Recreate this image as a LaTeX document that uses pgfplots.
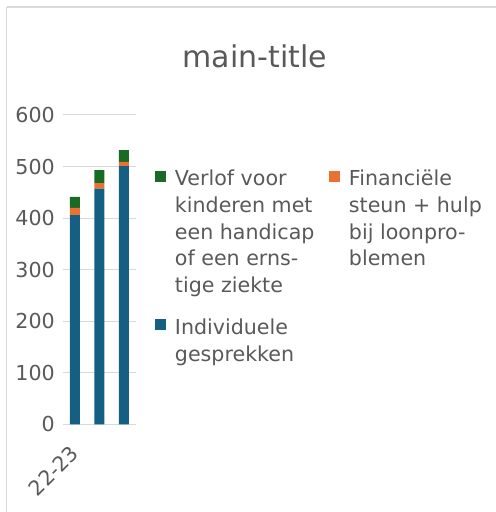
\documentclass[border=0pt]{standalone}
\usepackage{fontspec}
\setmainfont{DejaVu Sans}
\usepackage{pgfplots}
\pgfplotsset{compat=1.18}
\definecolor{cblue}{HTML}{156082}
\definecolor{corange}{HTML}{E97132}
\definecolor{cgreen}{HTML}{196B24}
\definecolor{txtgray}{HTML}{595959}
\definecolor{gridgray}{HTML}{D9D9D9}
\begin{document}
\begin{tikzpicture}
\useasboundingbox (0,0) rectangle (496bp,512bp);
\draw[gridgray, line width=1.3bp] (6.7bp,505bp) -- (496bp,505bp);
\draw[gridgray, line width=1.3bp] (6.7bp,505bp) -- (6.7bp,0bp);
\begin{axis}[
  at={(62.7bp,87.7bp)}, anchor=south west,
  scale only axis, width=73.3bp, height=309.3bp,
  ybar stacked, bar width=10bp,
  xmin=-0.5, xmax=2.5, ymin=0, ymax=600,
  ytick={0,100,...,600},
  xtick={0}, xticklabels={22-23},
  axis line style={draw=none},
  major tick length=0pt,
  ymajorgrids, grid style={gridgray, line width=1bp},
  tick label style={font=\fontsize{20.6bp}{24bp}\selectfont, text=txtgray},
  /pgf/number format/assume math mode=true,
  yticklabel style={inner sep=0pt, xshift=-7.7bp},
  xticklabel style={rotate=45, anchor=east, inner sep=0pt, xshift=-17.7bp, yshift=-17.7bp},
  title={main-title},
  title style={at={(axis description cs:2.623,1.1348)}, anchor=base, font=\fontsize{30bp}{36bp}\selectfont, text=txtgray, inner sep=0pt},
  legend columns=2,
  reverse legend,
  legend cell align=left,
  legend style={at={(axis description cs:1.259,0.822)}, anchor=north west, draw=none, fill=none, inner sep=0pt, outer sep=0pt,
    cells={anchor=base west},
    nodes={inner sep=0pt, text depth=, text=txtgray, font=\fontsize{20.6bp}{26.7bp}\selectfont},
    column sep=9bp, row sep=22bp,
    /tikz/every even column/.append style={column sep=4bp}},
  legend image code/.code={\fill[#1] (0bp,4bp) rectangle (11bp,15bp);},
]
\addplot[fill=cblue, draw=none] coordinates {(0,406) (1,457) (2,501)};
\addlegendentry{\parbox[t]{150bp}{\raggedright Individuele\\gesprekken}}
\addplot[fill=corange, draw=none] coordinates {(0,14) (1,11) (2,8)};
\addlegendentry{\parbox[t]{140bp}{\raggedright Financiële\\steun + hulp\\bij loonpro-\\blemen}}
\addplot[fill=cgreen, draw=none] coordinates {(0,21) (1,25) (2,23)};
\addlegendentry{\parbox[t]{150bp}{\raggedright Verlof voor\\kinderen met\\een handicap\\of een erns-\\tige ziekte}}
\end{axis}
\end{tikzpicture}
\end{document}
